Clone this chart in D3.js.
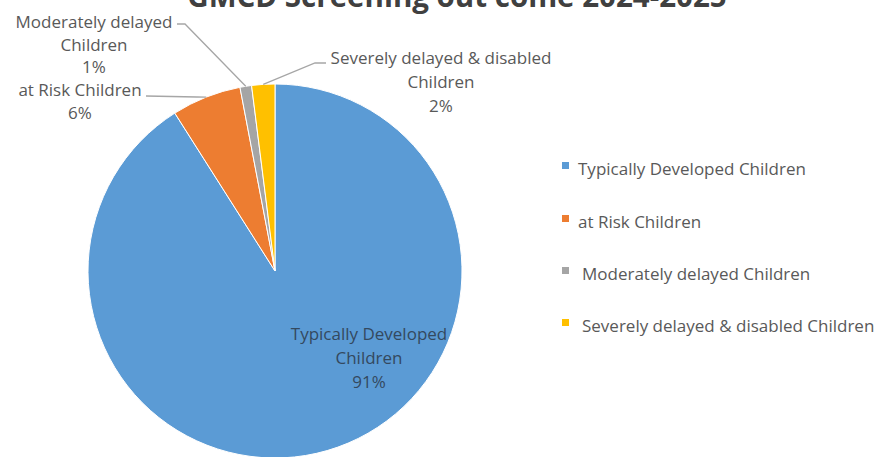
<!DOCTYPE html>
<html>
<head>
<meta charset="utf-8">
<script src="https://cdn.jsdelivr.net/npm/d3@7/dist/d3.min.js"></script>
<style>
  html, body { margin: 0; padding: 0; background: #fff; }
  svg { display: block; }
  text { font-family: "Open Sans", "DejaVu Sans", sans-serif; }
</style>
</head>
<body>
<div id="chart"></div>
<script>
// GMCD screening outcome, share of children by category
const categories = [
  "Typically Developed Children",
  "at Risk Children",
  "Moderately delayed Children",
  "Severely delayed & disabled Children"
];
const values = [91, 6, 1, 2];
const colors = ["#5B9BD5", "#ED7D31", "#A5A5A5", "#FFC000"];
// data label lines (category name split as drawn, then the percentage)
const labelLines = [
  ["Typically Developed", "Children"],
  ["at Risk Children"],
  ["Moderately delayed", "Children"],
  ["Severely delayed & disabled", "Children"]
];
const title = "GMCD Screening out come 2024-2025";

const W = 895, H = 457;
const cx = 275, cy = 271, R = 187;

const svg = d3.select("#chart").append("svg")
  .attr("width", W).attr("height", H);

svg.append("text")
  .attr("x", 457).attr("y", 7)
  .attr("text-anchor", "middle")
  .attr("font-size", 29.5).attr("font-weight", "bold")
  .attr("fill", "#404040")
  .text(title);

const data = categories.map((c, i) => ({ name: c, value: values[i], color: colors[i], lines: labelLines[i] }));

const pie = d3.pie().sort(null).value(d => d.value);
const arcs = pie(data);
const arc = d3.arc().innerRadius(0).outerRadius(R);

const g = svg.append("g").attr("transform", `translate(${cx},${cy})`);
g.selectAll("path.slice").data(arcs).join("path")
  .attr("class", "slice")
  .attr("d", arc)
  .attr("fill", d => d.data.color)
  .attr("stroke", "#fff")
  .attr("stroke-width", 1);

// point on the outer edge at the middle of a slice
const edgeMid = d => {
  const a = (d.startAngle + d.endAngle) / 2;
  return [R * Math.sin(a), -R * Math.cos(a)];
};

// label placement (first baseline, line step) and leader-line elbows
const labelPos = [
  { x: 369, y: 340, step: 24, fill: "#34495f", leader: null },
  { x: 80, y: 96, step: 23, fill: "#595959", leader: { elbow: [197, 97], end: [146, 96] } },
  { x: 94, y: 28, step: 22.5, fill: "#595959", leader: { elbow: [185, 24], end: [177, 24] } },
  { x: 441, y: 64, step: 24, fill: "#595959", leader: { elbow: [315, 63], end: [326, 63] } }
];

arcs.forEach((d, i) => {
  const p = labelPos[i];
  const t = svg.append("text")
    .attr("text-anchor", "middle")
    .attr("font-size", 17)
    .attr("fill", p.fill);
  const lines = d.data.lines.concat([d.data.value + "%"]);
  lines.forEach((ln, k) => {
    t.append("tspan").attr("x", p.x).attr("y", p.y + k * p.step).text(ln);
  });
  if (p.leader) {
    const [ex, ey] = edgeMid(d);
    const pts = [[cx + ex, cy + ey], p.leader.elbow];
    if (p.leader.end) pts.push(p.leader.end);
    svg.append("path")
      .attr("d", d3.line()(pts))
      .attr("fill", "none")
      .attr("stroke", "#A6A6A6")
      .attr("stroke-width", 1.3);
  }
});

// legend
const legend = svg.append("g");
const legendBase = [175, 228, 280, 332];
data.forEach((d, i) => {
  legend.append("rect")
    .attr("x", 562).attr("y", legendBase[i] - 13)
    .attr("width", 7).attr("height", 7)
    .attr("fill", d.color);
  legend.append("text")
    .attr("x", i < 2 ? 578 : 582).attr("y", legendBase[i])
    .attr("font-size", 17)
    .attr("fill", "#595959")
    .text(d.name);
});
</script>
</body>
</html>
